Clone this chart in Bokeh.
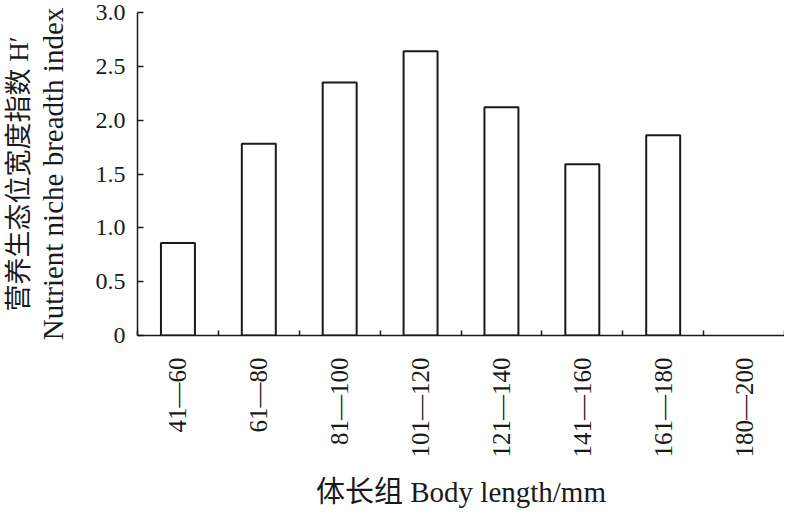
import math
from bokeh.plotting import figure
from bokeh.models import FixedTicker, Range1d, LinearAxis
from bokeh.embed import file_html
from bokeh.resources import INLINE

categories = ["41\u201460", "61\u201480", "81\u2014100", "101\u2014120",
              "121\u2014140", "141\u2014160", "161\u2014180", "180\u2014200"]
values = [0.86, 1.78, 2.35, 2.64, 2.12, 1.59, 1.86, float("nan")]
y_ticks = [0, 0.5, 1.0, 1.5, 2.0, 2.5, 3.0]
y_tick_labels = ["0", "0.5", "1.0", "1.5", "2.0", "2.5", "3.0"]
x_label = "体长组 Body length/mm"
y_label_cn = "营养生态位宽度指数 H\u2032"
y_label_en = "Nutrient niche breadth index"

FONT = "'Liberation Serif', 'Times New Roman', 'Noto Sans CJK SC'"
INK = "#1a1a1a"

n = len(categories)
xs = [i + 0.5 for i, v in enumerate(values) if not math.isnan(v)]
hs = [v for v in values if not math.isnan(v)]

p = figure(width=784, height=512, output_backend="svg", toolbar_location=None,
           x_range=Range1d(0, n), y_range=Range1d(0, y_ticks[-1]),
           min_border_left=137, min_border_right=0, min_border_top=12,
           min_border_bottom=177)
p.outline_line_color = None
p.grid.visible = False
p.background_fill_color = "white"
p.border_fill_color = "white"

p.vbar(x=xs, top=hs, bottom=0, width=0.42, fill_color="white",
       line_color=INK, line_width=2)

# x axis
xa = p.xaxis[0]
xa.ticker = FixedTicker(ticks=[i + 0.5 for i in range(n)],
                        minor_ticks=list(range(n + 1)))
xa.major_label_overrides = {i + 0.5: c for i, c in enumerate(categories)}
xa.major_label_orientation = math.pi / 2
xa.major_tick_in = 0
xa.major_tick_out = 0
xa.minor_tick_in = 5
xa.minor_tick_out = 0
xa.minor_tick_line_color = INK
xa.minor_tick_line_width = 1.5
xa.axis_line_color = INK
xa.axis_line_width = 1.5
xa.major_label_text_font = FONT
xa.major_label_text_font_size = "25px"
xa.major_label_text_color = INK
xa.major_label_standoff = 22
xa.axis_label = x_label
xa.axis_label_text_font = FONT
xa.axis_label_text_font_size = "29px"
xa.axis_label_text_font_style = "normal"
xa.axis_label_text_color = INK
xa.axis_label_standoff = 15

# y axis
ya = p.yaxis[0]
ya.ticker = FixedTicker(ticks=y_ticks)
ya.major_label_overrides = {t: l for t, l in zip(y_ticks, y_tick_labels)}
ya.major_tick_in = 6
ya.major_tick_out = 0
ya.minor_tick_line_color = None
ya.major_tick_line_color = INK
ya.major_tick_line_width = 1.5
ya.axis_line_color = INK
ya.axis_line_width = 1.5
ya.major_label_text_font = FONT
ya.major_label_text_font_size = "24px"
ya.major_label_text_color = INK
ya.major_label_standoff = 12
ya.axis_label = y_label_en
ya.axis_label_text_font = FONT
ya.axis_label_text_font_size = "29px"
ya.axis_label_text_font_style = "normal"
ya.axis_label_text_color = INK
ya.axis_label_standoff = 24

# Chinese line of the y title (outermost)
ya2 = LinearAxis(ticker=FixedTicker(ticks=[]), axis_line_color=None,
                 major_tick_line_color=None, minor_tick_line_color=None,
                 major_label_text_font_size="0px")
ya2.axis_label = y_label_cn
ya2.axis_label_text_font = FONT
ya2.axis_label_text_font_size = "27px"
ya2.axis_label_text_font_style = "normal"
ya2.axis_label_text_color = INK
ya2.axis_label_standoff = 0
p.add_layout(ya2, "left")

open("out.html", "w").write(file_html(p, INLINE))
